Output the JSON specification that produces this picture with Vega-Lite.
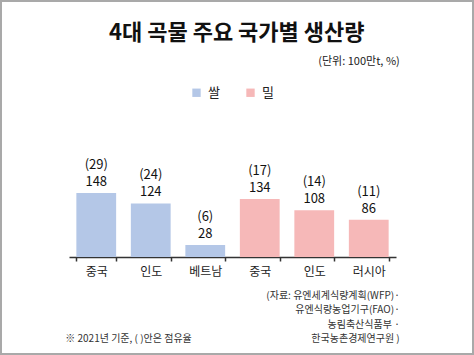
{
  "$schema": "https://vega.github.io/schema/vega-lite/v6.json",
  "width": 474,
  "height": 355,
  "autosize": "none",
  "padding": 0,
  "background": "white",
  "config": {
    "view": {"stroke": "#a9a9a9", "strokeWidth": 4},
    "font": "Noto Sans CJK KR"
  },
  "datasets": {
    "grain": [
      {"id": "쌀-중국", "grain": "쌀", "value": 148, "pct": 29},
      {"id": "쌀-인도", "grain": "쌀", "value": 124, "pct": 24},
      {"id": "쌀-베트남", "grain": "쌀", "value": 28, "pct": 6},
      {"id": "밀-중국", "grain": "밀", "value": 134, "pct": 17},
      {"id": "밀-인도", "grain": "밀", "value": 108, "pct": 14},
      {"id": "밀-러시아", "grain": "밀", "value": 86, "pct": 11}
    ],
    "titleText": [{"t": "4대 곡물 주요 국가별 생산량"}],
    "unitText": [{"t": "(단위: 100만t, %)"}],
    "noteText": [{"t": "※ 2021년 기준, ( )안은 점유율"}],
    "sourceText": [{"t": "(자료: 유엔세계식량계획(WFP)·\n유엔식량농업기구(FAO)·\n농림축산식품부 ·\n한국농촌경제연구원 )"}]
  },
  "layer": [
    {
      "data": {"name": "grain"},
      "mark": {"type": "bar"},
      "encoding": {
        "x": {
          "field": "id",
          "type": "nominal",
          "scale": {
            "domain": ["쌀-중국", "쌀-인도", "쌀-베트남", "밀-중국", "밀-인도", "밀-러시아"],
            "range": [69, 396],
            "paddingInner": 0.27,
            "paddingOuter": 0.135
          },
          "axis": {
            "title": null,
            "orient": "bottom",
            "offset": -98,
            "labelExpr": "split(datum.label, '-')[1]",
            "labelAngle": 0,
            "domainColor": "#333333",
            "domainWidth": 1.5,
            "tickColor": "#333333",
            "tickSize": 4,
            "tickWidth": 1.5,
            "tickBand": "extent",
            "labelFontSize": 12,
            "labelColor": "#222222",
            "labelPadding": 5,
            "grid": false
          }
        },
        "y": {
          "field": "value",
          "type": "quantitative",
          "scale": {"domain": [-226.6, 594.4], "nice": false, "zero": false},
          "axis": null
        },
        "y2": {"datum": 0},
        "color": {
          "field": "grain",
          "type": "nominal",
          "scale": {"domain": ["쌀", "밀"], "range": ["#b4c7e7", "#f6b8b8"]},
          "legend": {
            "orient": "none",
            "legendX": 190,
            "legendY": 86,
            "direction": "horizontal",
            "title": null,
            "symbolType": "square",
            "symbolSize": 70,
            "symbolStrokeWidth": 0,
            "symbolOpacity": 1,
            "labelFontSize": 13,
            "labelColor": "#222222",
            "labelOffset": 5,
            "columnPadding": 24
          }
        }
      }
    },
    {
      "data": {"name": "grain"},
      "transform": [{"calculate": "['(' + datum.pct + ')', '' + datum.value]", "as": "lbl"}],
      "mark": {"type": "text", "baseline": "bottom", "dy": -21, "fontSize": 13, "lineHeight": 17, "color": "#111111"},
      "encoding": {
        "x": {"field": "id", "type": "nominal"},
        "y": {"field": "value", "type": "quantitative"},
        "text": {"field": "lbl", "type": "nominal"}
      }
    },
    {
      "data": {"name": "titleText"},
      "mark": {"type": "text", "fontSize": 22, "fontWeight": "bold", "color": "#111111", "baseline": "middle", "align": "center", "xOffset": -23},
      "encoding": {"x": {"datum": "밀-중국"}, "y": {"datum": 518}, "text": {"field": "t", "type": "nominal"}}
    },
    {
      "data": {"name": "unitText"},
      "mark": {"type": "text", "fontSize": 11, "color": "#222222", "baseline": "middle", "align": "right", "xOffset": 31},
      "encoding": {"x": {"datum": "밀-러시아"}, "y": {"datum": 450}, "text": {"field": "t", "type": "nominal"}}
    },
    {
      "data": {"name": "noteText"},
      "mark": {"type": "text", "fontSize": 10, "color": "#333333", "baseline": "middle", "align": "left", "xOffset": -31},
      "encoding": {"x": {"datum": "쌀-중국"}, "y": {"datum": -189.6}, "text": {"field": "t", "type": "nominal"}}
    },
    {
      "data": {"name": "sourceText"},
      "mark": {"type": "text", "fontSize": 10, "lineHeight": 14.3, "lineBreak": "\n", "color": "#333333", "baseline": "top", "align": "right", "xOffset": 31},
      "encoding": {"x": {"datum": "밀-러시아"}, "y": {"datum": -78.6}, "text": {"field": "t", "type": "nominal"}}
    }
  ]
}
